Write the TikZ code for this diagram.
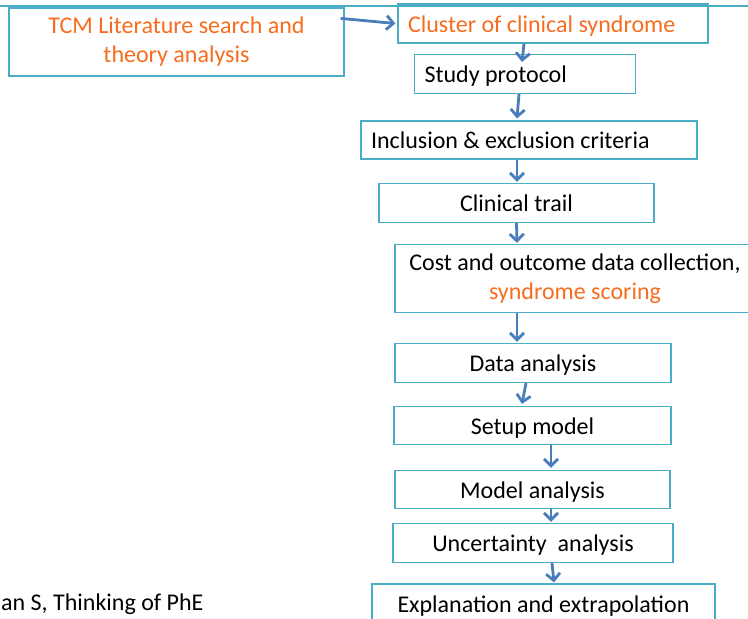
\documentclass[tikz,border=0pt]{standalone}
\usepackage{fontspec}
\setmainfont{Carlito}
\usetikzlibrary{arrows.meta}
\definecolor{boxline}{RGB}{75,172,198}
\definecolor{arrowblue}{RGB}{74,126,187}
\definecolor{orangetxt}{RGB}{247,108,30}
\tikzset{
  box/.style={draw=boxline, line width=1.2pt, rectangle, inner sep=0pt,
    font=\fontsize{24}{29}\selectfont, text=black},
  onebox/.style={box, text height=19pt, text depth=2pt},
  flow/.style={draw=arrowblue, line width=2.8pt,
    -{Straight Barb[length=7pt,width=14pt]}},
}
\newcommand{\lefttext}[2]{\hbox to #1{\hspace{10pt}#2\hfil}}
\begin{document}
\begin{tikzpicture}[x=1pt,y=-1pt]
\useasboundingbox (0,0) rectangle (748,619);
\clip (0,0) rectangle (748,619);
% top rule
\draw[boxline, line width=1.2pt] (0,6) -- (748,6);
% boxes
\node[box, minimum width=335pt, minimum height=68pt, align=center, text=orangetxt] (tcm) at (176.5,42)
  {TCM Literature search and\\theory analysis};
\node[onebox, minimum width=310pt, minimum height=39pt, text=orangetxt] (cluster) at (553,23.5)
  {\lefttext{310pt}{Cluster of clinical syndrome}};
\node[onebox, minimum width=221pt, minimum height=39pt] (study) at (525,74)
  {\lefttext{221pt}{Study protocol}};
\node[onebox, minimum width=336pt, minimum height=38pt] (incl) at (529,140)
  {\lefttext{336pt}{Inclusion \& exclusion criteria}};
\node[onebox, minimum width=275pt, minimum height=39pt] (trial) at (516.5,203)
  {Clinical trail};
\node[box, minimum width=360pt, minimum height=68pt, align=center] (cost) at (575,278.5)
  {Cost and outcome data collection,\\\textcolor{orangetxt}{syndrome scoring}};
\node[onebox, minimum width=276pt, minimum height=39pt] (data) at (533,363)
  {Data analysis};
\node[onebox, minimum width=277pt, minimum height=38pt] (setup) at (532.5,425.5)
  {Setup model};
\node[onebox, minimum width=275pt, minimum height=38pt] (model) at (532.5,489.5)
  {Model analysis};
\node[onebox, minimum width=280pt, minimum height=39pt] (unc) at (533,543)
  {Uncertainty\ \ analysis};
\node[box, minimum width=343pt, minimum height=70pt] (expl) at (543.5,619)
  {};
\node[font=\fontsize{24}{29}\selectfont, anchor=base, inner sep=0pt] (expltxt) at (543.5,612) {Explanation and extrapolation};
\node[font=\fontsize{24}{29}\selectfont, anchor=base west, inner sep=0pt] (cite) at (1,610)
  {an S, Thinking of PhE};
% connectors
\draw[flow] ([shift={(-4,11)}]tcm.north east) -- ([shift={(-2,0)}]cluster.west);
\draw[flow] ([shift={(-29,0)}]cluster.south) -- ([shift={(-3,8)}]study.north);
\draw[flow] ([shift={(-6,0)}]study.south) -- ([shift={(-12,-2)}]incl.north);
\draw[flow] ([shift={(-12,0)}]incl.south) -- ([shift={(0.5,-1)}]trial.north);
\draw[flow] (trial.south) -- ([shift={(-58,-1)}]cost.north);
\draw[flow] ([shift={(-58,0)}]cost.south) -- ([shift={(-16,-1)}]data.north);
\draw[flow] ([shift={(-7,0)}]data.south) -- ([shift={(-10.5,-2)}]setup.north);
\draw[flow] ([shift={(18.5,0)}]setup.south) -- ([shift={(18.5,-2)}]model.north);
\draw[flow] ([shift={(18.5,0)}]model.south) -- ([shift={(18,-1)}]unc.north);
\draw[flow] ([shift={(19,0)}]unc.south) -- ([shift={(10.5,-1)}]expl.north);
\end{tikzpicture}
\end{document}
